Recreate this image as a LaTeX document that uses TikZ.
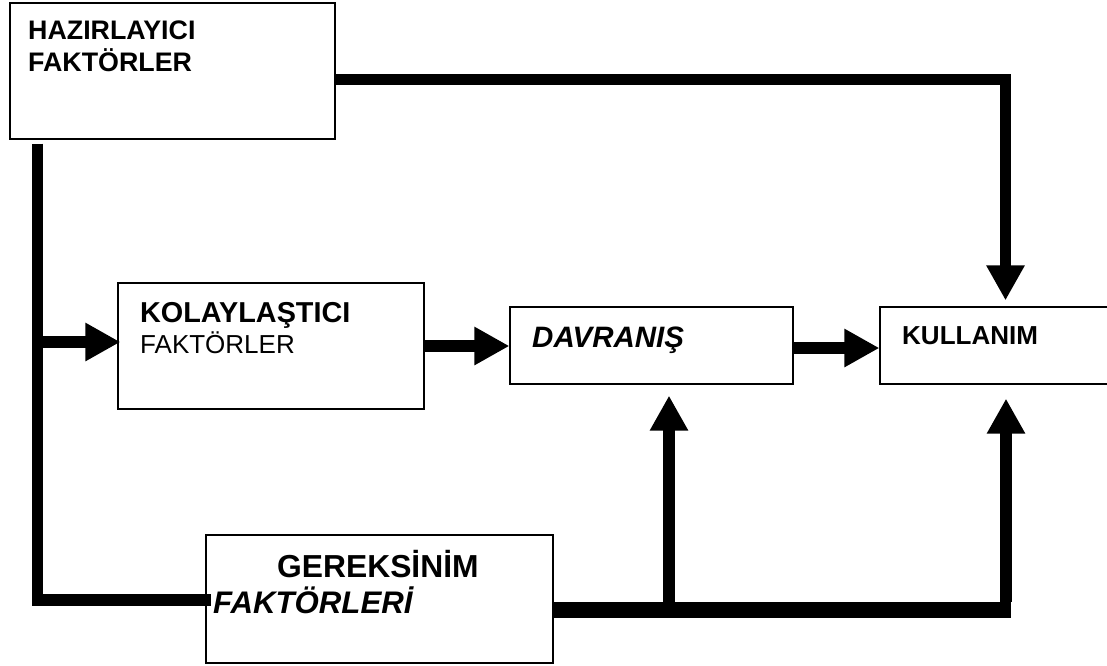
\documentclass[tikz,border=0pt]{standalone}
\usepackage{fontspec}
\setmainfont{Liberation Sans}
\usetikzlibrary{arrows.meta}
\tikzset{
  box/.style = {draw = black, line width = 1.2pt, inner sep = 0pt, minimum width = #1},
  lbl/.style = {anchor = base west, inner sep = 0pt},
  flow/.style = {line width = 11.5pt, line join = miter, -{Triangle[length = 35pt, width = 36pt]}},
  bar/.style = {line width = 11.5pt, line join = miter}
}
\begin{document}
\begin{tikzpicture}[x = 1pt, y = -1pt]
\useasboundingbox (0,0) rectangle (1107,665);
\node[box = 325pt, minimum height = 136pt] (hazir) at (172.5,71) {};
\node[box = 306pt, minimum height = 126pt] (kolay) at (271,346) {};
\node[box = 283pt, minimum height = 77pt] (davr) at (651.5,345.5) {};
\node[box = 230pt, minimum height = 77pt] (kull) at (995,345.5) {};
\node[box = 347pt, minimum height = 128pt] (gerek) at (379.5,599) {};
\node[lbl] (hazirA) at (28,39) {\fontsize{26.8}{30}\selectfont\bfseries HAZIRLAYICI};
\node[lbl] (hazirB) at (28,71) {\fontsize{26.8}{30}\selectfont\bfseries FAKTÖRLER};
\node[lbl] (kolayA) at (140,322) {\fontsize{28.8}{32}\selectfont\bfseries KOLAYLAŞTICI};
\node[lbl] (kolayB) at (140,353) {\fontsize{26}{30}\selectfont FAKTÖRLER};
\node[lbl] (davrA) at (532,347) {\fontsize{29.5}{32}\selectfont\bfseries\itshape DAVRANIŞ};
\node[lbl] (kullA) at (902,344) {\fontsize{26}{30}\selectfont\bfseries KULLANIM};
\node[lbl] (gerekA) at (277,577) {\fontsize{31.8}{34}\selectfont\bfseries GEREKSİNİM};
\node[lbl] (gerekB) at (213,613) {\fontsize{31.2}{34}\selectfont\bfseries\itshape FAKTÖRLERİ};
\coordinate (lft) at (37.5,600);
\coordinate (tr) at (1005.5,79.5);
\coordinate (br) at (1011,609.5);
\coordinate (up1) at (669,602);
\coordinate (up2) at (1006,602);
\draw[bar, shorten < = 4pt] (hazir.south -| lft) -- (lft) -- ([xshift = 6pt]lft -| gerek.west);
\draw[flow, shorten > = -3pt] (lft |- 0,342) -- (kolay.west |- 0,342);
\draw[flow, shorten > = 6pt] (hazir.east |- tr) -- (tr) -- (tr |- kull.north);
\draw[flow] (kolay.east) -- (kolay.east -| davr.west);
\draw[flow] (davr.east |- 0,348) -- (kull.west |- 0,348);
\draw[line width = 16pt] (gerek.east |- br) -- (br);
\draw[flow, shorten > = 11pt] (up1) -- (up1 |- davr.south);
\draw[flow, shorten > = 14pt] (up2) -- (up2 |- kull.south);
\end{tikzpicture}
\end{document}
